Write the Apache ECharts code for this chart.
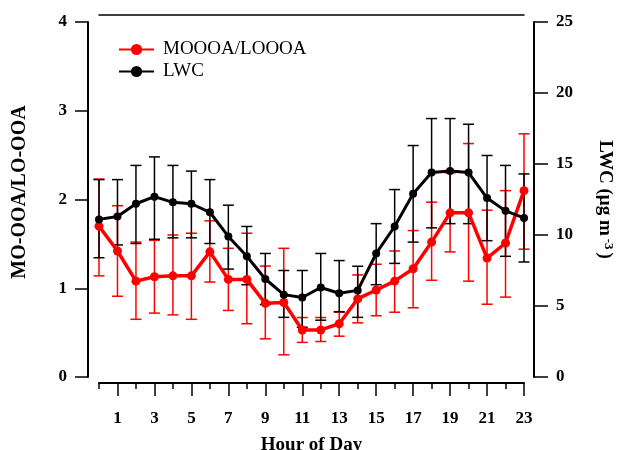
<!DOCTYPE html>
<html lang="en">
    <head>
        <meta charset="UTF-8" />
        <title>MO-OOA/LO-OOA and LWC diurnal</title>
        <script src="https://cdn.jsdelivr.net/npm/echarts@6/dist/echarts.min.js"></script>
        <style>
            html, body { margin: 0; padding: 0; background: #fff; }
        </style>
    </head>
    <body>
        <!-- Chart container -->
        <div id="main" style="width: 619px; height: 450px"></div>

        <script>
            // Hour of day, with odd hours labelled
            const hours = [0, 1, 2, 3, 4, 5, 6, 7, 8, 9, 10, 11, 12, 13, 14, 15, 16, 17, 18, 19, 20, 21, 22, 23];
            const labelHours = [1, 3, 5, 7, 9, 11, 13, 15, 17, 19, 21, 23];
            const minorHours = [0, 2, 4, 6, 8, 10, 12, 14, 16, 18, 20, 22];

            // MO-OOA/LO-OOA ratio (left axis) with error bar ends
            const ratioMean = [1.70, 1.42, 1.08, 1.13, 1.14, 1.14, 1.41, 1.10, 1.10, 0.83, 0.84, 0.53,
                               0.53, 0.60, 0.88, 0.98, 1.08, 1.22, 1.52, 1.85, 1.85, 1.34, 1.51, 2.10];
            const ratioHigh = [2.23, 1.93, 1.52, 1.54, 1.60, 1.62, 1.76, 1.45, 1.62, 1.25, 1.45, 0.67,
                               0.67, 0.73, 1.15, 1.27, 1.42, 1.65, 1.97, 2.30, 2.63, 1.88, 2.10, 2.74];
            const ratioLow  = [1.14, 0.91, 0.65, 0.72, 0.70, 0.65, 1.07, 0.75, 0.60, 0.43, 0.25, 0.39,
                               0.40, 0.46, 0.61, 0.69, 0.73, 0.78, 1.09, 1.41, 1.08, 0.82, 0.90, 1.44];

            // LWC in ug m-3 (right axis) with error bar ends
            const lwcMean = [11.1, 11.3, 12.2, 12.7, 12.3, 12.2, 11.6, 9.9, 8.5, 6.9, 5.8, 5.6,
                             6.3, 5.9, 6.1, 8.7, 10.6, 12.9, 14.4, 14.5, 14.4, 12.6, 11.7, 11.2];
            const lwcHigh = [13.9, 13.9, 14.9, 15.5, 14.9, 14.5, 13.9, 12.1, 10.6, 8.7, 7.5, 7.5,
                             8.7, 8.2, 7.8, 10.8, 13.2, 16.3, 18.2, 18.2, 17.8, 15.6, 14.9, 14.3];
            const lwcLow  = [8.4, 9.3, 9.4, 9.7, 9.8, 9.8, 9.4, 7.6, 6.5, 5.1, 4.2, 3.5,
                             4.0, 4.6, 4.2, 6.5, 8.0, 9.5, 10.5, 10.8, 10.8, 9.6, 8.5, 8.1];

            const serif = "Liberation Serif";

            // Vertical error bar with caps, drawn through the axes
            function errorBar(color) {
                return function (params, api) {
                    const x = api.value(0);
                    const lo = api.coord([x, api.value(1)]);
                    const hi = api.coord([x, api.value(2)]);
                    const w = 5.5;
                    const style = { stroke: color, lineWidth: 1.5 };
                    return {
                        type: "group",
                        children: [
                            { type: "line", shape: { x1: lo[0], y1: lo[1], x2: hi[0], y2: hi[1] }, style: style },
                            { type: "line", shape: { x1: lo[0] - w, y1: lo[1], x2: lo[0] + w, y2: lo[1] }, style: style },
                            { type: "line", shape: { x1: hi[0] - w, y1: hi[1], x2: hi[0] + w, y2: hi[1] }, style: style }
                        ]
                    };
                };
            }

            let myChart = echarts.init(document.getElementById("main"));

            const axisLineStyle = { color: "#000", width: 2 };
            const tickLabel = { color: "#000", fontFamily: serif, fontWeight: "bold", fontSize: 17 };

            let options = {
                animation: false,
                backgroundColor: "#fff",
                grid: { left: 99, right: 95, top: 22, bottom: 73, outerBoundsMode: "none" },
                legend: {
                    orient: "vertical",
                    left: 113,
                    top: 35,
                    itemWidth: 35,
                    itemHeight: 14,
                    itemGap: 3,
                    textStyle: { color: "#000", fontFamily: serif, fontSize: 19, padding: [0, 0, 0, 4] },
                    data: ["MOOOA/LOOOA", "LWC"]
                },
                xAxis: [
                    {
                        type: "value",
                        min: 0,
                        max: 23,
                        position: "bottom",
                        offset: 6,
                        name: "Hour of Day",
                        nameLocation: "middle",
                        nameGap: 53,
                        nameTextStyle: { color: "#000", fontFamily: serif, fontWeight: "bold", fontSize: 19 },
                        axisLine: { show: true, onZero: false, lineStyle: axisLineStyle },
                        axisTick: { show: true, length: 13, lineStyle: { color: "#000", width: 1.5 }, customValues: labelHours },
                        axisLabel: Object.assign({ margin: 27, customValues: labelHours }, tickLabel),
                        splitLine: { show: false }
                    },
                    {
                        type: "value",
                        min: 0,
                        max: 23,
                        position: "bottom",
                        offset: 6,
                        axisLine: { show: false, onZero: false },
                        axisTick: { show: true, length: 6, lineStyle: { color: "#000", width: 1.5 }, customValues: minorHours },
                        axisLabel: { show: false },
                        splitLine: { show: false }
                    },
                    {
                        type: "value",
                        min: 0,
                        max: 23,
                        position: "top",
                        offset: 7,
                        axisLine: { show: true, onZero: false, lineStyle: { color: "#000", width: 1.5 } },
                        axisTick: { show: false },
                        axisLabel: { show: false },
                        splitLine: { show: false }
                    }
                ],
                yAxis: [
                    {
                        type: "value",
                        min: 0,
                        max: 4,
                        interval: 1,
                        position: "left",
                        offset: 11,
                        name: "MO-OOA/LO-OOA",
                        nameLocation: "middle",
                        nameGap: 58,
                        nameTextStyle: { color: "#000", fontFamily: serif, fontWeight: "bold", fontSize: 20, padding: [0, 0, 0, 15] },
                        axisLine: { show: true, onZero: false, lineStyle: axisLineStyle },
                        axisTick: { show: true, length: 13, lineStyle: { color: "#000", width: 1.5 } },
                        axisLabel: Object.assign({ margin: 21 }, tickLabel),
                        splitLine: { show: false }
                    },
                    {
                        type: "value",
                        min: 0,
                        max: 25,
                        interval: 5,
                        position: "right",
                        offset: 10,
                        name: "{n|LWC (μg m}{s|-3}{n|)}",
                        nameLocation: "middle",
                        nameRotate: -90,
                        nameGap: 60,
                        nameTextStyle: {
                            color: "#000",
                            fontFamily: serif,
                            fontWeight: "bold",
                            fontSize: 19,
                            rich: {
                                n: { fontFamily: serif, fontWeight: "bold", fontSize: 19, color: "#000" },
                                s: { fontFamily: serif, fontWeight: "bold", fontSize: 13, color: "#000", verticalAlign: "top", padding: [0, 3, 8, 3] }
                            }
                        },
                        axisLine: { show: true, onZero: false, lineStyle: axisLineStyle },
                        axisTick: { show: true, length: 14, lineStyle: { color: "#000", width: 1.5 } },
                        axisLabel: Object.assign({ margin: 22 }, tickLabel),
                        splitLine: { show: false }
                    }
                ],
                series: [
                    {
                        name: "MOOOA/LOOOA err",
                        type: "custom",
                        xAxisIndex: 0,
                        yAxisIndex: 0,
                        renderItem: errorBar("#ff0000"),
                        encode: { x: 0, y: [1, 2] },
                        data: hours.map((h, i) => [h, ratioLow[i], ratioHigh[i]]),
                        z: 2
                    },
                    {
                        name: "LWC err",
                        type: "custom",
                        xAxisIndex: 0,
                        yAxisIndex: 1,
                        renderItem: errorBar("#000000"),
                        encode: { x: 0, y: [1, 2] },
                        data: hours.map((h, i) => [h, lwcLow[i], lwcHigh[i]]),
                        z: 2
                    },
                    {
                        name: "MOOOA/LOOOA",
                        type: "line",
                        xAxisIndex: 0,
                        yAxisIndex: 0,
                        symbol: "circle",
                        symbolSize: 9,
                        color: "#ff0000",
                        lineStyle: { color: "#ff0000", width: 3.5 },
                        itemStyle: { color: "#ff0000" },
                        data: hours.map((h, i) => [h, ratioMean[i]]),
                        z: 3
                    },
                    {
                        name: "LWC",
                        type: "line",
                        xAxisIndex: 0,
                        yAxisIndex: 1,
                        symbol: "circle",
                        symbolSize: 8,
                        color: "#000000",
                        lineStyle: { color: "#000000", width: 3 },
                        itemStyle: { color: "#000000" },
                        data: hours.map((h, i) => [h, lwcMean[i]]),
                        z: 4
                    }
                ]
            };

            myChart.setOption(options);
        </script>
    </body>
</html>
